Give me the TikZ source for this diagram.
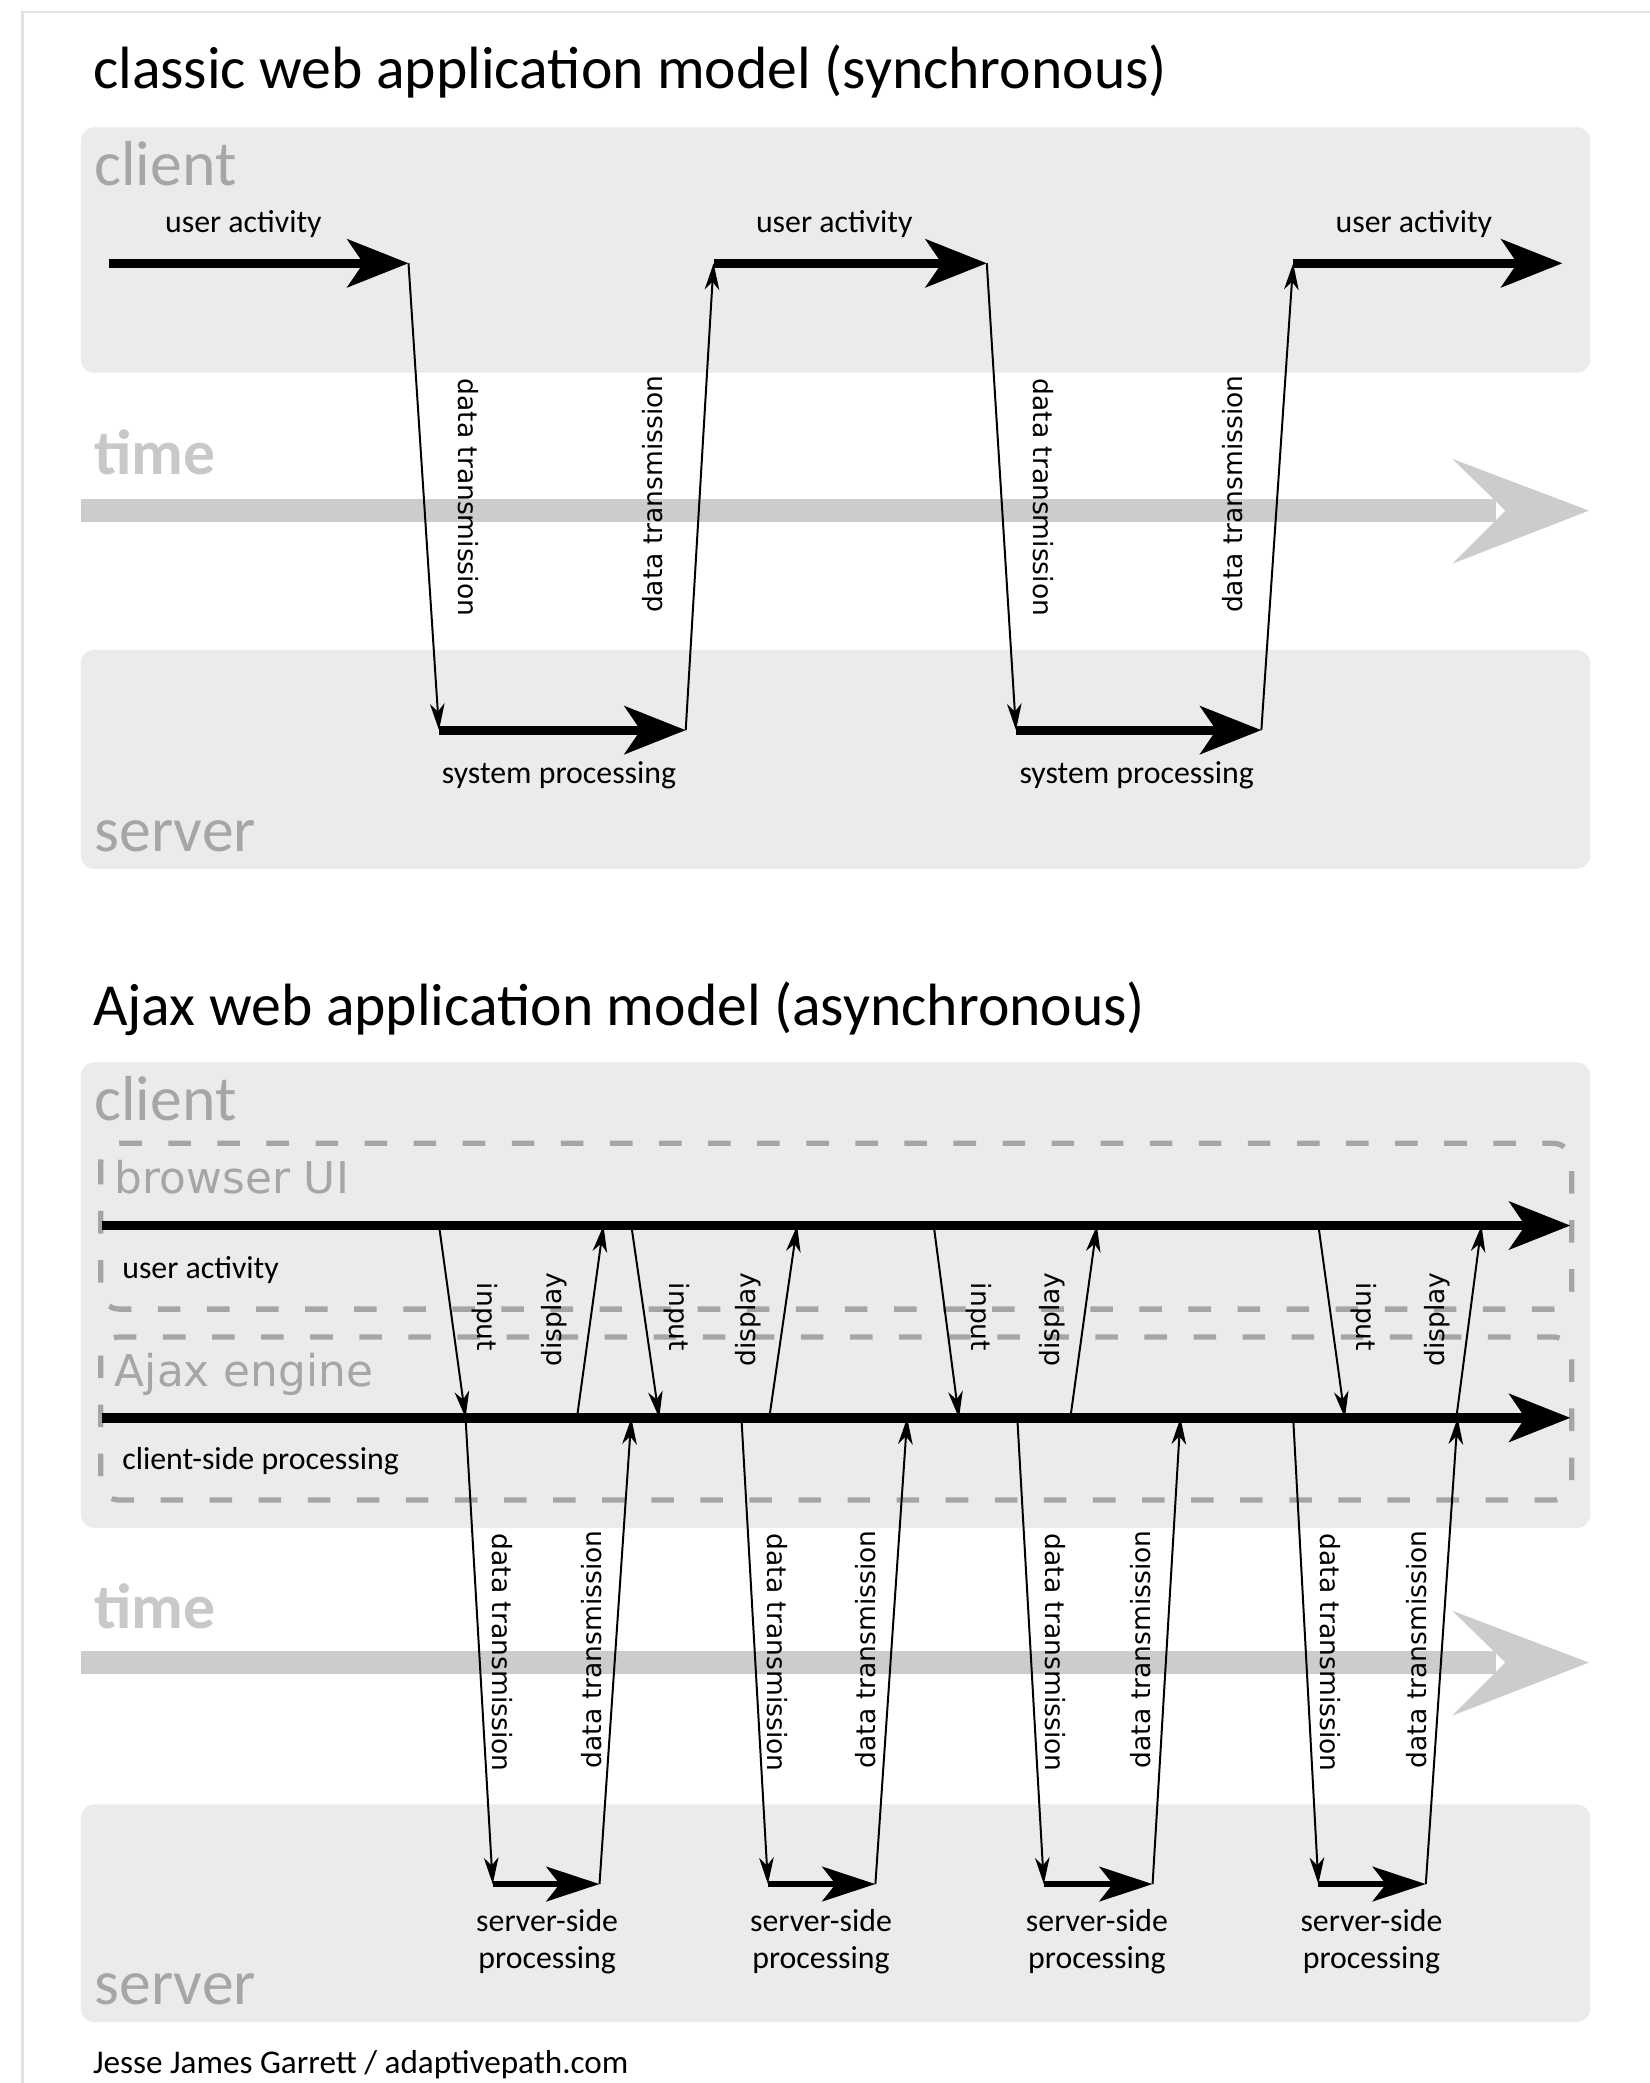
\documentclass[tikz,border=0pt]{standalone}
\usepackage{fontspec}
\setmainfont{Carlito}
\newfontfamily\vfont{DejaVu Sans}
\usetikzlibrary{arrows.meta}
\definecolor{boxgray}{RGB}{235,235,235}
\definecolor{lblgray}{RGB}{166,166,166}
\definecolor{timegray}{RGB}{200,200,200}
\definecolor{bargray}{RGB}{204,204,204}
\definecolor{dashgray}{RGB}{165,165,165}
\definecolor{framegray}{RGB}{222,228,228}
\begin{document}
\begin{tikzpicture}[x=1pt,y=-1pt,
  region/.style={fill=boxgray, rounded corners=10pt},
  zonelabel/.style={anchor=base west, inner sep=0, text=lblgray, font=\fontsize{48}{52}\selectfont},
  subzonelabel/.style={anchor=base west, inner sep=0, text=lblgray, font=\vfont\fontsize{33}{38}\selectfont},
  timelabel/.style={anchor=base west, inner sep=0, text=timegray, font=\bfseries\fontsize{48}{52}\selectfont},
  titletext/.style={anchor=base west, inner sep=0, font=\fontsize{45}{50}\selectfont},
  small/.style={inner sep=0, anchor=base, font=\fontsize{24}{28}\selectfont},
  smallw/.style={inner sep=0, anchor=base west, font=\fontsize{24}{28}\selectfont},
  vlabel/.style={inner sep=0, font=\vfont\fontsize{20}{24}\selectfont},
  flow/.style={line width=7pt, -{Stealth[length=46pt,width=36pt,inset=12pt]}},
  sflow/.style={line width=5pt, -{Stealth[length=40pt,width=26pt,inset=10pt]}},
  msg/.style={line width=1.5pt, -{Stealth[length=20pt,width=11pt,inset=6pt]}},
  lane/.style={draw=dashgray, line width=4pt, dash pattern=on 17pt off 20pt, rounded corners=14pt},
]
\useasboundingbox (0,0) rectangle (1244,1570.5);
\fill[white] (0,0) rectangle (1244,1570.5);
\draw[framegray, line width=2pt] (17,1570.5) -- (17,9) -- (1244,9);

% ---------------- classic model ----------------
\node[titletext] (t1) at (70,67) {classic web application model (synchronous)};
\fill[region] (61,96) rectangle (1199,281);
\fill[region] (61,490) rectangle (1199,655);
\node[zonelabel] (cl1) at (71,140) {client};
\node[timelabel] (tm1) at (71,358) {time};
\node[zonelabel] (sv1) at (71,642) {server};
% time arrow
\fill[bargray] (61,376.5) rectangle (1128,393.5);
\fill[bargray] (1095,346) -- (1198,385) -- (1095,425) -- (1135,385) -- cycle;

\coordinate (a1s) at (82,198.5);  \coordinate (a1e) at (308,198.5);
\coordinate (a2s) at (538,198.5); \coordinate (a2e) at (744,198.5);
\coordinate (a3s) at (975,198.5); \coordinate (a3e) at (1178,198.5);
\coordinate (s1s) at (331,550.5); \coordinate (s1e) at (517,550.5);
\coordinate (s2s) at (766,550.5); \coordinate (s2e) at (951,550.5);

\draw[flow] (a1s) -- (a1e);
\draw[flow] (a2s) -- (a2e);
\draw[flow] (a3s) -- (a3e);
\draw[flow] (s1s) -- (s1e);
\draw[flow] (s2s) -- (s2e);
\draw[msg] (a1e) -- (s1s);
\draw[msg] (s1e) -- (a2s);
\draw[msg] (a2e) -- (s2s);
\draw[msg] (s2e) -- (a3s);

\node[small] (ua1) at (183.5,175.5) {user activity};
\node[small] (ua2) at (629,175.5) {user activity};
\node[small] (ua3) at (1066,175.5) {user activity};
\node[small] (sp1) at (421.5,590.5) {system processing};
\node[small] (sp2) at (857,590.5) {system processing};
\node[vlabel, rotate=-90] (d1) at (353,375) {data transmission};
\node[vlabel, rotate=90] (u1) at (492,372.5) {data transmission};
\node[vlabel, rotate=-90] (d2) at (787,375) {data transmission};
\node[vlabel, rotate=90] (u2) at (929,372.5) {data transmission};

% ---------------- Ajax model ----------------
\node[titletext] (t2) at (70,773) {Ajax web application model (asynchronous)};
\fill[region] (61,801) rectangle (1199,1152);
\fill[region] (61,1360.5) rectangle (1199,1524.5);
\node[zonelabel] (cl2) at (71,845) {client};
\node[timelabel] (tm2) at (71,1227.5) {time};
\node[zonelabel] (sv2) at (71,1511.6) {server};
\fill[bargray] (61,1245) rectangle (1128,1262);
\fill[bargray] (1095,1214.5) -- (1198,1253.5) -- (1095,1293.5) -- (1135,1253.5) -- cycle;

\draw[lane] (76,862) rectangle (1185,987);
\draw[lane] (76,1008) rectangle (1185,1131);
\node[subzonelabel] (bui) at (86.5,899.5) {browser UI};
\node[subzonelabel] (aje) at (86.5,1045.5) {Ajax engine};

\coordinate (uas) at (77,924);  \coordinate (uae) at (1184,924);
\coordinate (cps) at (77,1069); \coordinate (cpe) at (1184,1069);
\draw[flow] (uas) -- (uae);
\draw[flow] (cps) -- (cpe);
\node[smallw] (ual) at (92,963.6) {user activity};
\node[smallw] (cpl) at (92,1108) {client-side processing};

% input / display
\coordinate (i1t) at (331,924);  \coordinate (i1b) at (351,1069);
\coordinate (p1b) at (435,1069); \coordinate (p1t) at (455,924);
\coordinate (i2t) at (476,924);  \coordinate (i2b) at (497,1069);
\coordinate (p2b) at (580,1069); \coordinate (p2t) at (601,924);
\coordinate (i3t) at (704,924);  \coordinate (i3b) at (723,1069);
\coordinate (p3b) at (807,1069); \coordinate (p3t) at (827,924);
\coordinate (i4t) at (994,924);  \coordinate (i4b) at (1014,1069);
\coordinate (p4b) at (1098,1069); \coordinate (p4t) at (1117,924);
\foreach \k in {1,2,3,4}{
  \draw[msg] (i\k t) -- (i\k b);
  \draw[msg] (p\k b) -- (p\k t);
}
\node[vlabel, rotate=-90] (in1) at (365.5,993) {input};
\node[vlabel, rotate=-90] (in2) at (510,993) {input};
\node[vlabel, rotate=-90] (in3) at (738,993) {input};
\node[vlabel, rotate=-90] (in4) at (1028,993) {input};
\node[vlabel, rotate=90] (ds1) at (418,995) {display};
\node[vlabel, rotate=90] (ds2) at (564,995) {display};
\node[vlabel, rotate=90] (ds3) at (793,995) {display};
\node[vlabel, rotate=90] (ds4) at (1083.5,995) {display};

% data transmission / server-side processing
\coordinate (q1a) at (351,1069);   \coordinate (q1b) at (371.5,1420.5); \coordinate (q1c) at (452,1420.5); \coordinate (q1d) at (476,1069);
\coordinate (q2a) at (559,1069);   \coordinate (q2b) at (579,1420.5);   \coordinate (q2c) at (660,1420.5); \coordinate (q2d) at (684,1069);
\coordinate (q3a) at (767,1069);   \coordinate (q3b) at (787,1420.5);   \coordinate (q3c) at (869,1420.5); \coordinate (q3d) at (890,1069);
\coordinate (q4a) at (975,1069);   \coordinate (q4b) at (994,1420.5);   \coordinate (q4c) at (1075,1420.5); \coordinate (q4d) at (1099,1069);
\foreach \k in {1,2,3,4}{
  \draw[msg] (q\k a) -- (q\k b);
  \draw[sflow] (q\k b) -- (q\k c);
  \draw[msg] (q\k c) -- (q\k d);
}
\node[vlabel, rotate=-90] (dd1) at (379,1246) {data transmission};
\node[vlabel, rotate=-90] (dd2) at (586,1246) {data transmission};
\node[vlabel, rotate=-90] (dd3) at (796,1246) {data transmission};
\node[vlabel, rotate=-90] (dd4) at (1003,1246) {data transmission};
\node[vlabel, rotate=90] (du1) at (446,1243.5) {data transmission};
\node[vlabel, rotate=90] (du2) at (653,1243.5) {data transmission};
\node[vlabel, rotate=90] (du3) at (860,1243.5) {data transmission};
\node[vlabel, rotate=90] (du4) at (1068,1243.5) {data transmission};

\node[small] (ss1a) at (412.5,1456.6) {server-side};
\node[small] (ss1b) at (412.5,1484) {processing};
\node[small] (ss2a) at (619,1456.6) {server-side};
\node[small] (ss2b) at (619,1484) {processing};
\node[small] (ss3a) at (827,1456.6) {server-side};
\node[small] (ss3b) at (827,1484) {processing};
\node[small] (ss4a) at (1034,1456.6) {server-side};
\node[small] (ss4b) at (1034,1484) {processing};

\node[anchor=base west, inner sep=0, font=\fontsize{25}{28}\selectfont] (ft) at (70,1563) {Jesse James Garrett / adaptivepath.com};
\end{tikzpicture}
\end{document}
